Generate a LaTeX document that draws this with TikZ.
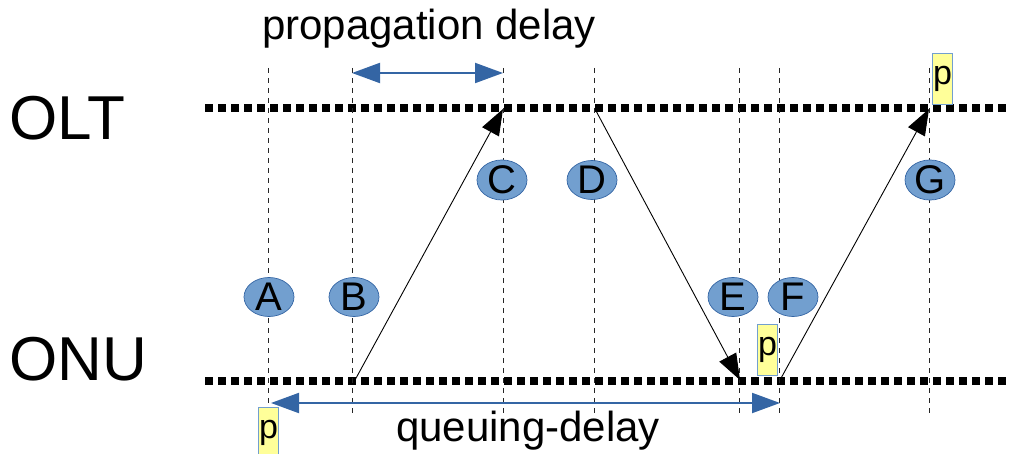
\documentclass[tikz,border=0pt]{standalone}
\usepackage{fontspec}
\setmainfont{Liberation Sans}
\usetikzlibrary{arrows.meta,shapes.geometric}
\definecolor{lineblue}{HTML}{3465A4}
\definecolor{ballblue}{HTML}{729FCF}
\definecolor{notepale}{HTML}{FFFF99}

\begin{document}
\begin{tikzpicture}[x=1pt,y=-1pt,
  lane/.style={line width=8.5pt, dash pattern=on 8pt off 5pt},
  guide/.style={line width=0.9pt, dash pattern=on 5pt off 5pt, black!85},
  ball/.style={ellipse, draw=lineblue, fill=ballblue, line width=0.7pt,
    minimum width=50pt, minimum height=39pt, inner sep=0pt,
    font=\fontsize{40}{40}\selectfont},
  pbox/.style={draw=ballblue, fill=notepale, line width=1pt,
    minimum width=20pt, minimum height=51pt, inner sep=0pt,
    font=\fontsize{34}{34}\selectfont},
  msg/.style={line width=0.9pt, -{Triangle[length=26pt,width=19pt]}},
  span/.style={lineblue, line width=2pt,
    {Triangle[length=28pt,width=20pt]}-{Triangle[length=28pt,width=20pt]}},
  label/.style={inner sep=0pt, font=\fontsize{42}{42}\selectfont},
  side/.style={inner sep=0pt, anchor=base west, font=\fontsize{62}{62}\selectfont}
]
\useasboundingbox (0,0) rectangle (1016,454);

% station names
\node[side] (olt) at (9,140) {OLT};
\node[side] (onu) at (9,380) {ONU};

% time lines of the two stations
\coordinate (oltL) at (205,108);
\coordinate (oltR) at (1006,108);
\coordinate (onuL) at (205,381);
\coordinate (onuR) at (1006,381);
\draw[lane] (oltL) -- (oltR);
\draw[lane] (onuL) -- (onuR);

% event instants
\foreach \n/\x/\b in {A/268/407, B/352/417, C/503/417, D/594/417, E/739/417, F/779/417, G/929/417} {
  \coordinate (top\n) at (\x,68);
  \coordinate (bot\n) at (\x,\b);
  \draw[guide] (top\n) -- (bot\n);
}

% frames in transit
\coordinate (sendB) at (355,380);
\coordinate (recvC) at (503,109);
\coordinate (sendD) at (595,109);
\coordinate (recvE) at (740,380);
\coordinate (sendF) at (780,380);
\coordinate (recvG) at (929,109);
\draw[msg] (sendB) -- (recvC);
\draw[msg] (sendD) -- (recvE);
\draw[msg] (sendF) -- (recvG);

% delays
\coordinate (propL) at (352,73);
\coordinate (propR) at (503,73);
\draw[span] (propL) -- (propR);
\node[label, anchor=base] (proptext) at (429,40) {propagation delay};

\coordinate (queueL) at (271,403);
\coordinate (queueR) at (780,403);
\draw[span] (queueL) -- (queueR);
\node[label, anchor=base] (queuetext) at (528,441) {queuing-delay};

% event markers
\node[ball] (A) at (269,297) {A};
\node[ball] (B) at (354,297) {B};
\node[ball] (C) at (502,180) {C};
\node[ball] (D) at (592,180) {D};
\node[ball] (E) at (733,297) {E};
\node[ball] (F) at (793,297) {F};
\node[ball] (G) at (930,180) {G};

% the packet
\node[pbox, anchor=north west] (p1) at (258,407) {p};
\node[pbox, anchor=north west] (p2) at (757,324) {p};
\node[pbox, anchor=north west] (p3) at (932,53) {p};
\end{tikzpicture}
\end{document}
